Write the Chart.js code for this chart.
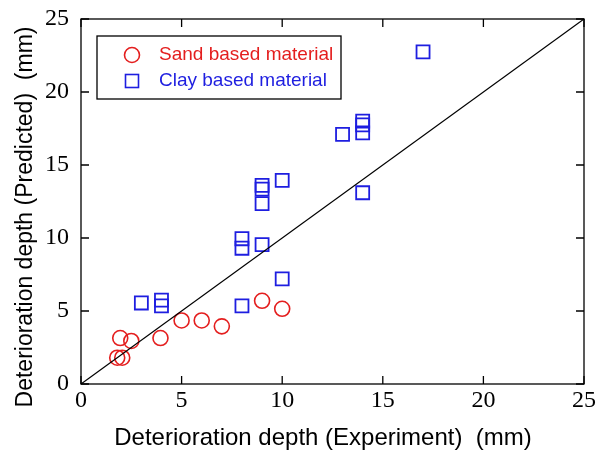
<!DOCTYPE html>
<html>
<head>
<meta charset="utf-8">
<script src="https://cdn.jsdelivr.net/npm/chart.js@4"></script>
<style>
  html, body { margin: 0; padding: 0; background: #fff; }
  #box { width: 599px; height: 452px; }
</style>
</head>
<body>
<div id="box"><canvas id="grafico" width="599" height="452"></canvas></div>
<script>
// DATA
const sandX = [1.8, 2.05, 1.95, 2.5, 3.95, 5.0, 6.0, 7.0, 9.0, 10.0];
const sandY = [1.8, 1.8, 3.15, 2.95, 3.15, 4.35, 4.35, 3.95, 5.7, 5.15];

const clayX = [3.0, 4.0, 4.0, 8.0, 10.0, 8.0, 8.0, 9.0, 9.0, 9.0, 9.0, 10.0, 13.0, 14.0, 14.0, 14.0, 14.0, 17.0];
const clayY = [5.55, 5.75, 5.35, 5.35, 7.2, 9.95, 9.3, 9.55, 12.35, 13.35, 13.6, 13.95, 17.1, 17.2, 17.75, 18.0, 13.1, 22.75];

const lineX = [0, 25];
const lineY = [0, 25];

const tickValues = [0, 5, 10, 15, 20, 25];
const seriesNames = ["Sand based material", "Clay based material"];
const xTitle = "Deterioration depth (Experiment)  (mm)";
const yTitle = "Deterioration depth (Predicted)  (mm)";

const RED = "#e41e1e";
const BLUE = "#1e1ee0";

function pares(xs, ys) {
    return xs.map((x, i) => ({ x: x, y: ys[i] }));
}

// frame, inward ticks, titles and legend
const extras = {
    id: "extras",
    afterDraw(chart) {
        const ctx = chart.ctx;
        const a = chart.chartArea;
        const sx = chart.scales.x;
        const sy = chart.scales.y;
        const tl = 8;

        ctx.save();
        ctx.strokeStyle = "#000";
        ctx.lineWidth = 1.3;
        ctx.strokeRect(a.left, a.top, a.right - a.left, a.bottom - a.top);

        ctx.beginPath();
        tickValues.forEach(v => {
            const px = sx.getPixelForValue(v);
            const py = sy.getPixelForValue(v);
            ctx.moveTo(px, a.bottom); ctx.lineTo(px, a.bottom - tl);
            ctx.moveTo(px, a.top); ctx.lineTo(px, a.top + tl);
            ctx.moveTo(a.left, py); ctx.lineTo(a.left + tl, py);
            ctx.moveTo(a.right, py); ctx.lineTo(a.right - tl, py);
        });
        ctx.stroke();

        // axis titles
        ctx.fillStyle = "#000";
        ctx.font = "24px 'Liberation Sans'";
        ctx.textAlign = "center";
        ctx.textBaseline = "alphabetic";
        ctx.fillText(xTitle, 323, 445);

        ctx.font = "23px 'Liberation Sans'";
        ctx.translate(32, 217);
        ctx.rotate(-Math.PI / 2);
        ctx.fillText(yTitle, 0, 0);
        ctx.restore();

        // legend
        ctx.save();
        ctx.strokeStyle = "#000";
        ctx.lineWidth = 1.3;
        ctx.strokeRect(97, 36, 244, 63);

        ctx.lineWidth = 1.6;
        ctx.strokeStyle = RED;
        ctx.beginPath();
        ctx.arc(132, 55, 7.5, 0, Math.PI * 2);
        ctx.stroke();

        ctx.strokeStyle = BLUE;
        ctx.strokeRect(125.5, 74.5, 13, 13);

        ctx.font = "19px 'Liberation Sans'";
        ctx.textAlign = "left";
        ctx.textBaseline = "middle";
        ctx.fillStyle = RED;
        ctx.fillText(seriesNames[0], 159, 55);
        ctx.fillStyle = BLUE;
        ctx.fillText(seriesNames[1], 159, 81);
        ctx.restore();
    }
};

function criarGrafico() {
    const ctx = document.getElementById("grafico");

    new Chart(ctx, {
        type: "scatter",
        data: {
            datasets: [
                {
                    label: "y = x",
                    type: "line",
                    data: pares(lineX, lineY),
                    borderColor: "#000",
                    borderWidth: 1.2,
                    pointRadius: 0,
                    fill: false
                },
                {
                    label: seriesNames[1],
                    data: pares(clayX, clayY),
                    pointStyle: "rect",
                    pointRadius: 9.2,
                    borderColor: BLUE,
                    borderWidth: 1.8,
                    backgroundColor: "rgba(0,0,0,0)"
                },
                {
                    label: seriesNames[0],
                    data: pares(sandX, sandY),
                    pointStyle: "circle",
                    pointRadius: 7.5,
                    borderColor: RED,
                    borderWidth: 1.6,
                    backgroundColor: "rgba(0,0,0,0)"
                }
            ]
        },
        options: {
            responsive: false,
            animation: false,
            layout: { padding: { top: 19, right: 15, left: 0, bottom: 0 } },
            plugins: {
                legend: { display: false },
                tooltip: { enabled: false }
            },
            scales: {
                x: {
                    type: "linear",
                    min: 0,
                    max: 25,
                    border: { display: false },
                    grid: { display: false, drawTicks: false },
                    ticks: {
                        stepSize: 5,
                        padding: 2,
                        color: "#000",
                        font: { family: "'Liberation Serif'", size: 24 }
                    },
                    afterFit(scale) {
                        scale.height = 68;
                        scale.paddingLeft = 0;
                        scale.paddingRight = 0;
                    }
                },
                y: {
                    type: "linear",
                    min: 0,
                    max: 25,
                    border: { display: false },
                    grid: { display: false, drawTicks: false },
                    ticks: {
                        stepSize: 5,
                        padding: 12,
                        color: "#000",
                        font: { family: "'Liberation Serif'", size: 24 }
                    },
                    afterFit(scale) {
                        scale.width = 81;
                        scale.paddingTop = 0;
                        scale.paddingBottom = 0;
                    }
                }
            }
        },
        plugins: [extras]
    });
}

criarGrafico();
</script>
</body>
</html>
